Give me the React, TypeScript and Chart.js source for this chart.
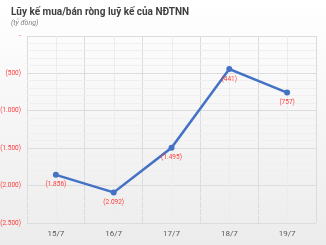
import React, { useEffect, useRef } from "react";
import { Chart, registerables } from "chart.js";

Chart.register(...registerables);

const categories = ["15/7", "16/7", "17/7", "18/7", "19/7"];
const values = [-1856, -2092, -1495, -441, -757];
const titleText = "Lũy kế mua/bán ròng luỹ kế của NĐTNN";
const subtitleText = "(tỷ đồng)";

const fmt = (v: number) => {
  if (v === 0) return "-";
  const s = Math.abs(v).toString().replace(/\B(?=(\d{3})+(?!\d))/g, ".");
  return v < 0 ? `(${s})` : s;
};

export default function App() {
  const ref = useRef<HTMLCanvasElement>(null);
  useEffect(() => {
    document.body.style.margin = "0";
    const ctx = ref.current!.getContext("2d")!;
    const extras = {
      id: "extras",
      beforeDatasetsDraw(chart: any) {
        const c = chart.ctx;
        const x = chart.scales.x;
        const area = chart.chartArea;
        c.save();
        c.strokeStyle = "#ececec";
        c.lineWidth = 1;
        categories.forEach((_, i) => {
          const px = Math.round(x.getPixelForValue(i)) + 0.5;
          c.beginPath();
          c.moveTo(px, area.top);
          c.lineTo(px, area.bottom);
          c.stroke();
        });
        c.restore();
      },
      afterDatasetsDraw(chart: any) {
        const c = chart.ctx;
        const meta = chart.getDatasetMeta(0);
        c.save();
        c.fillStyle = "#ff3b3b";
        c.font = "6.5px Roboto";
        c.textAlign = "center";
        c.textBaseline = "middle";
        meta.data.forEach((pt: any, i: number) => {
          c.fillText(fmt(values[i]), pt.x, pt.y + 10);
        });
        c.restore();
      },
      afterDraw(chart: any) {
        const c = chart.ctx;
        c.save();
        c.textAlign = "left";
        c.textBaseline = "middle";
        c.fillStyle = "#404040";
        c.font = "bold 10px Roboto";
        c.fillText(titleText, 11, 12);
        c.fillStyle = "#7f7f7f";
        c.font = "italic 7px Roboto";
        c.fillText(subtitleText, 11, 23);
        c.restore();
      },
    };
    const chart = new Chart(ctx, {
      type: "line",
      data: {
        labels: categories,
        datasets: [
          {
            data: values,
            borderColor: "#4472c4",
            backgroundColor: "#4472c4",
            borderWidth: 2.5,
            pointRadius: 3,
            pointBackgroundColor: "#4472c4",
            pointBorderWidth: 0,
            tension: 0,
          },
        ],
      },
      options: {
        animation: false,
        responsive: false,
        maintainAspectRatio: false,
        layout: { padding: { top: 36, right: 10, left: 0, bottom: 0 } },
        plugins: { legend: { display: false }, tooltip: { enabled: false }, title: { display: false } },
        scales: {
          x: {
            type: "category",
            offset: true,
            grid: { offset: true, color: "#dcdcdc", drawTicks: false },
            border: { display: false },
            ticks: { color: "#595959", font: { size: 8, family: "Roboto" }, padding: 6 },
            afterFit(s: any) {
              s.height = 22;
            },
          },
          y: {
            min: -2500,
            max: 0,
            grid: {
              drawTicks: false,
              color: (c: any) => (c.tick && c.tick.value % 500 === 0 ? "#dcdcdc" : "#efefef"),
            },
            border: { display: false },
            ticks: {
              stepSize: 100,
              autoSkip: false,
              color: "#ff3b3b",
              font: { size: 6.5, family: "Roboto" },
              padding: 6,
              callback: (v: any) => (Number(v) % 500 === 0 ? fmt(Number(v)) : ""),
            },
            afterFit(s: any) {
              s.width = 27;
            },
          },
        },
      },
      plugins: [extras],
    });
    return () => chart.destroy();
  }, []);
  return (
    <div
      style={{
        position: "absolute",
        left: 0,
        top: 0,
        width: 326,
        height: 245,
        background: "linear-gradient(#ffffff, #ececec)",
      }}
    >
      <canvas ref={ref} width={326} height={245} style={{ width: 326, height: 245, display: "block" }} />
    </div>
  );
}
